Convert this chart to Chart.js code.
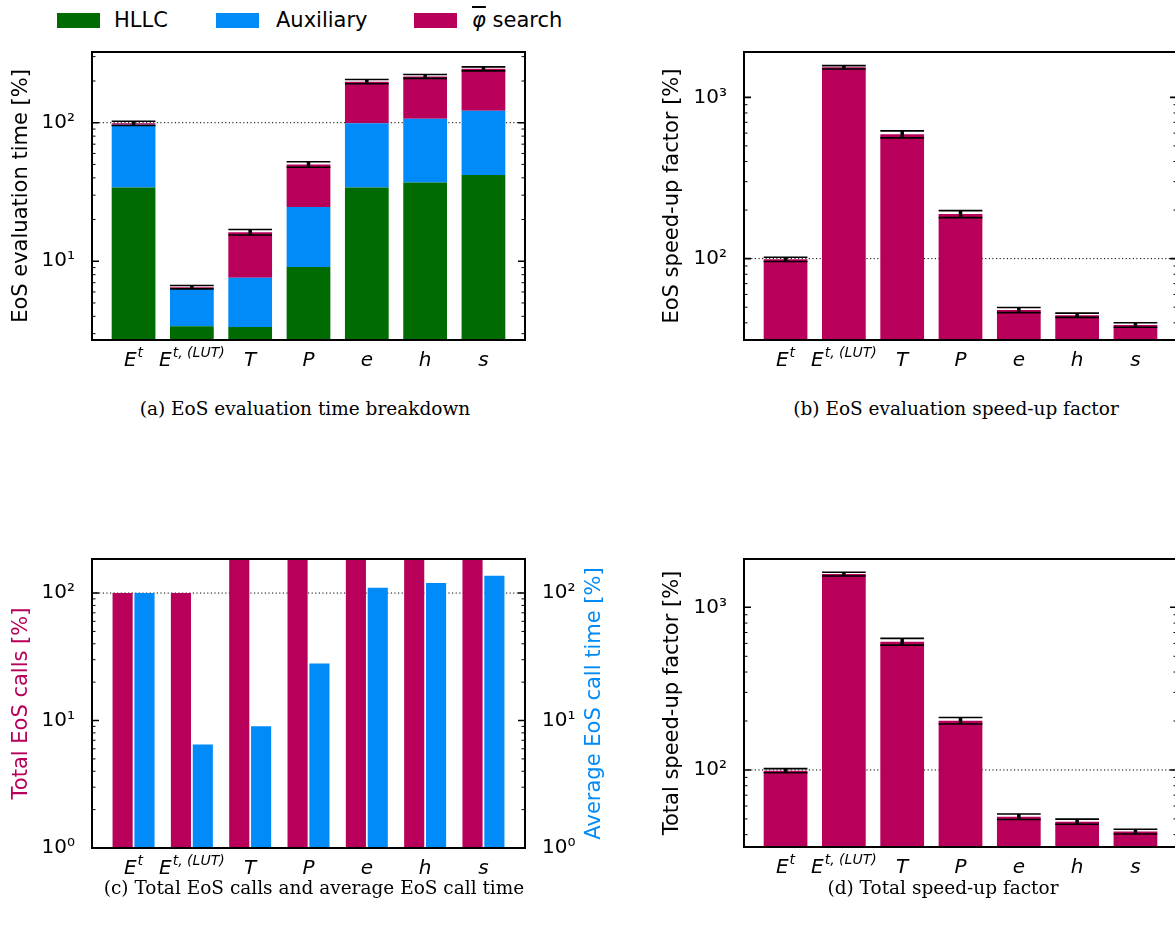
<!DOCTYPE html>
<html>
<head>
<meta charset="utf-8">
<script src="https://cdn.jsdelivr.net/npm/chart.js@4.4.1/dist/chart.umd.min.js"></script>
<style>
  body { margin: 0; width: 1175px; height: 933px; overflow: hidden; background: #fff; position: relative; font-family: "DejaVu Sans", sans-serif; }
  canvas { position: absolute; }
  .legbox { position: absolute; top: 13px; width: 43px; height: 15px; }
  .legtxt { position: absolute; top: 8px; font-size: 21px; line-height: 24px; white-space: nowrap; }
  .cap { position: absolute; width: 600px; text-align: center; font-family: "DejaVu Serif", serif; font-size: 18.5px; line-height: 22px; white-space: nowrap; }
</style>
</head>
<body>
<div id="legend"></div>
<canvas id="panelA" style="left:0;top:0" width="620" height="380"></canvas>
<canvas id="panelB" style="left:620px;top:0" width="560" height="380"></canvas>
<canvas id="panelC" style="left:0;top:480px" width="620" height="400"></canvas>
<canvas id="panelD" style="left:620px;top:480px" width="560" height="400"></canvas>
<div class="cap" style="left:5px;top:398px">(a) EoS evaluation time breakdown</div>
<div class="cap" style="left:656px;top:398px">(b) EoS evaluation speed-up factor</div>
<div class="cap" style="left:14px;top:877px">(c) Total EoS calls and average EoS call time</div>
<div class="cap" style="left:643px;top:877px">(d) Total speed-up factor</div>
<script>
// categories: base symbol + superscript
const catBase = ['E', 'E', 'T', 'P', 'e', 'h', 's'];
const catSup = ['t', 't, (LUT)', '', '', '', '', ''];

// (a) evaluation time breakdown [%]
const hllc = [34, 3.4, 3.35, 9.1, 34, 37, 42];
const auxiliary = [62.5, 3.0, 4.25, 15.5, 65, 70, 80];
const phiSearch = [2.5, 0.1, 8.6, 25.4, 99, 109, 123];
const evalErr = [0.035, 0.028, 0.045, 0.045, 0.035, 0.033, 0.033];

// (b) EoS evaluation speed-up factor [%]
const evalSpeedup = [99, 1535, 590, 189, 48, 44.6, 38.8];
const evalSpeedupErr = [0.03, 0.024, 0.05, 0.05, 0.036, 0.03, 0.033];

// (c) total calls and average call time [%]
const totalCalls = [100, 100, 185, 185, 185, 185, 185];
const avgCallTime = [100, 6.5, 9.0, 28, 110, 120, 137];

// (d) total speed-up factor [%]
const totalSpeedup = [99, 1600, 615, 201, 51.6, 48.1, 41.8];
const totalSpeedupErr = [0.03, 0.026, 0.048, 0.046, 0.039, 0.036, 0.033];

const seriesNames = ['HLLC', 'Auxiliary', 'φ search'];
const GREEN = '#006b00', BLUE = '#008bf8', PINK = '#b8005a';
const FONT = '"DejaVu Sans", sans-serif';
const SUP = {'0': '⁰', '1': '¹', '2': '²', '3': '³', '4': '⁴'};

// legend (html)
const legend = document.getElementById('legend');
[[GREEN, 57, 114], [BLUE, 216, 276], [PINK, 414, 472]].forEach(([c, bx, tx], i) => {
  const b = document.createElement('div');
  b.className = 'legbox'; b.style.left = bx + 'px'; b.style.background = c;
  legend.appendChild(b);
  const t = document.createElement('div');
  t.className = 'legtxt'; t.style.left = tx + 'px';
  if (i === 2) t.innerHTML = '<span style="font-style:italic;text-decoration:overline">φ</span> search';
  else t.textContent = seriesNames[i];
  legend.appendChild(t);
});

function powerLabel(v) {
  const l = Math.log10(v);
  if (Math.abs(l - Math.round(l)) > 1e-6) return '';
  return '10' + String(Math.round(l)).split('').map(d => SUP[d]).join('');
}

const decor = {
  id: 'decor',
  beforeDatasetsDraw(chart, args, opts) {
    const ctx = chart.ctx, a = chart.chartArea, ys = chart.scales.y;
    const y = ys.getPixelForValue(100);
    ctx.save();
    ctx.strokeStyle = '#000'; ctx.lineWidth = 1; ctx.setLineDash([1.2, 2.4]);
    ctx.beginPath(); ctx.moveTo(a.left, y); ctx.lineTo(a.right, y); ctx.stroke();
    ctx.restore();
  },
  afterDatasetsDraw(chart, args, opts) {
    if (!opts.values) return;
    const ctx = chart.ctx, xs = chart.scales.x, ys = chart.scales.y;
    const half = (xs.getPixelForValue(0.75) - xs.getPixelForValue(0)) / 2;
    ctx.save();
    ctx.strokeStyle = '#000';
    opts.values.forEach((v, i) => {
      const x = xs.getPixelForValue(i);
      const yt = ys.getPixelForValue(v * (1 + opts.errors[i]));
      const yb = ys.getPixelForValue(v * (1 - opts.errors[i]));
      ctx.lineWidth = 1.6;
      ctx.beginPath();
      ctx.moveTo(x - half, yt); ctx.lineTo(x + half, yt);
      ctx.moveTo(x - half, yb); ctx.lineTo(x + half, yb);
      ctx.stroke();
      ctx.lineWidth = 3.5;
      ctx.beginPath(); ctx.moveTo(x, yt); ctx.lineTo(x, yb); ctx.stroke();
    });
    ctx.restore();
  },
  afterDraw(chart, args, opts) {
    const ctx = chart.ctx, a = chart.chartArea, ys = chart.scales.y, xs = chart.scales.x;
    ctx.save();
    // inner ticks on both spines
    ctx.strokeStyle = '#000';
    const lo = Math.floor(Math.log10(ys.min)), hi = Math.ceil(Math.log10(ys.max));
    for (let n = lo; n <= hi; n++) {
      for (let m = 1; m <= 9; m++) {
        const v = m * Math.pow(10, n);
        if (v < ys.min * 0.999 || v > ys.max * 1.001) continue;
        const y = ys.getPixelForValue(v);
        const len = m === 1 ? 7 : 3.5;
        ctx.lineWidth = m === 1 ? 1.6 : 1;
        ctx.beginPath();
        ctx.moveTo(a.left, y); ctx.lineTo(a.left + len, y);
        ctx.moveTo(a.right, y); ctx.lineTo(a.right - len, y);
        ctx.stroke();
      }
    }
    // frame
    ctx.lineWidth = 2;
    ctx.strokeRect(a.left, a.top, a.right - a.left, a.bottom - a.top);
    // category labels with superscripts
    ctx.fillStyle = '#000';
    ctx.textBaseline = 'alphabetic';
    catBase.forEach((b, i) => {
      ctx.font = 'italic 20px ' + FONT;
      const wb = ctx.measureText(b).width;
      ctx.font = 'italic 14px ' + FONT;
      const ws = catSup[i] ? ctx.measureText(catSup[i]).width + 1 : 0;
      const x0 = xs.getPixelForValue(i) - (wb + ws) / 2;
      const y = a.bottom + 26;
      ctx.font = 'italic 20px ' + FONT;
      ctx.fillText(b, x0, y);
      if (catSup[i]) {
        ctx.font = 'italic 14px ' + FONT;
        ctx.fillText(catSup[i], x0 + wb + 1, y - 9);
      }
    });
    // right-hand axis title, read bottom to top
    if (opts.rightTitle) {
      ctx.translate(opts.rightTitle.x, (a.top + a.bottom) / 2);
      ctx.rotate(-Math.PI / 2);
      ctx.font = '21px ' + FONT;
      ctx.fillStyle = opts.rightTitle.color;
      ctx.textAlign = 'center';
      ctx.textBaseline = 'middle';
      ctx.fillText(opts.rightTitle.text, 0, 0);
    }
    ctx.restore();
  }
};
Chart.register(decor);

function yAxis(pos, min, max, width, title, color, pad, stacked) {
  return {
    type: 'logarithmic', position: pos, min: min, max: max, stacked: stacked,
    grid: { display: false },
    border: { display: false },
    ticks: { autoSkip: false, padding: 9, color: '#000', font: { family: FONT, size: 20 }, callback: v => powerLabel(v) },
    title: { display: !!title, text: title, color: color, font: { family: FONT, size: 21 }, padding: { top: pad, bottom: 0 } },
    afterFit: s => { s.width = width; }
  };
}

function xAxis(stacked) {
  return {
    type: 'linear', display: false, offset: false, stacked: stacked,
    min: -0.7125, max: 6.7125,
    ticks: { stepSize: 1, includeBounds: false }
  };
}

function pts(arr) { return arr.map((v, i) => ({ x: i, y: v })); }

function bar(label, arr, color, extra) {
  return Object.assign({
    label: label, data: pts(arr), backgroundColor: color, borderWidth: 0,
    categoryPercentage: 1, barPercentage: 0.75
  }, extra || {});
}

function baseOptions(padding, scales, decorOpts) {
  return {
    responsive: false, animation: false,
    layout: { padding: padding },
    plugins: { legend: { display: false }, tooltip: { enabled: false }, decor: decorOpts },
    scales: scales
  };
}

const totalEval = hllc.map((v, i) => v + auxiliary[i] + phiSearch[i]);

new Chart(document.getElementById('panelA'), {
  type: 'bar',
  data: { datasets: [
    bar(seriesNames[0], hllc, GREEN),
    bar(seriesNames[1], auxiliary, BLUE),
    bar(seriesNames[2], phiSearch, PINK)
  ]},
  options: baseOptions({ top: 52, bottom: 40, left: 0, right: 95 }, {
    x: xAxis(true),
    y: yAxis('left', 2.7, 324, 92, 'EoS evaluation time [%]', '#000', 9, true)
  }, { values: totalEval, errors: evalErr })
});

new Chart(document.getElementById('panelB'), {
  type: 'bar',
  data: { datasets: [ bar('EoS speed-up', evalSpeedup, PINK) ] },
  options: baseOptions({ top: 52, bottom: 40, left: 0, right: 3 }, {
    x: xAxis(false),
    y: yAxis('left', 31.3, 1910, 124, 'EoS speed-up factor [%]', '#000', 40, false)
  }, { values: evalSpeedup, errors: evalSpeedupErr })
});

new Chart(document.getElementById('panelC'), {
  type: 'bar',
  data: { datasets: [
    bar('Total EoS calls', totalCalls, PINK, { categoryPercentage: 0.75, barPercentage: 0.92 }),
    bar('Average EoS call time', avgCallTime, BLUE, { categoryPercentage: 0.75, barPercentage: 0.92, yAxisID: 'y2' })
  ]},
  options: baseOptions({ top: 79, bottom: 32, left: 0, right: 0 }, {
    x: xAxis(false),
    y: yAxis('left', 1, 185, 92, 'Total EoS calls [%]', PINK, 9, false),
    y2: yAxis('right', 1, 185, 95, '', BLUE, 13, false)
  }, { rightTitle: { text: 'Average EoS call time [%]', color: BLUE, x: 595 } })
});

new Chart(document.getElementById('panelD'), {
  type: 'bar',
  data: { datasets: [ bar('Total speed-up', totalSpeedup, PINK) ] },
  options: baseOptions({ top: 79, bottom: 33, left: 0, right: 3 }, {
    x: xAxis(false),
    y: yAxis('left', 33.6, 1982, 124, 'Total speed-up factor [%]', '#000', 40, false)
  }, { values: totalSpeedup, errors: totalSpeedupErr })
});
</script>
</body>
</html>
